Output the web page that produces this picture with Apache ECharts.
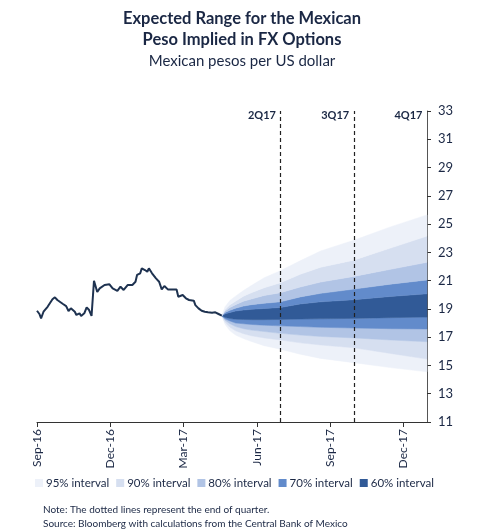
<!DOCTYPE html>
<html>
<head>
<meta charset="utf-8">
<script src="https://cdn.jsdelivr.net/npm/echarts@6/dist/echarts.min.js"></script>
<style>
  html, body { margin: 0; padding: 0; background: #fff; }
  #chart { width: 484px; height: 529px; }
</style>
</head>
<body>
<div id="chart"></div>
<script>
// historical spot rate, pesos per dollar
var histDates = ['2016-09-01','2016-09-04','2016-09-06','2016-09-09','2016-09-14','2016-09-20','2016-09-23','2016-09-26','2016-09-28','2016-09-29',
  '2016-10-03','2016-10-07','2016-10-10','2016-10-13','2016-10-18','2016-10-20','2016-10-24','2016-10-26','2016-10-30',
  '2016-11-02','2016-11-05','2016-11-08','2016-11-11','2016-11-15','2016-11-18','2016-11-24','2016-11-30',
  '2016-12-04','2016-12-10','2016-12-14','2016-12-18','2016-12-23','2016-12-29',
  '2017-01-02','2017-01-04','2017-01-08','2017-01-10','2017-01-14','2017-01-17','2017-01-19','2017-01-23','2017-01-28',
  '2017-02-01','2017-02-04','2017-02-07','2017-02-11','2017-02-21','2017-02-23','2017-02-28',
  '2017-03-04','2017-03-08','2017-03-10','2017-03-14','2017-03-16','2017-03-20','2017-03-24','2017-03-28',
  '2017-04-01','2017-04-06','2017-04-10','2017-04-14','2017-04-18'];
var histValues = [18.87,18.64,18.33,18.80,19.15,19.68,19.82,19.63,19.75,19.51,
  19.35,19.20,18.85,19.04,18.80,18.57,18.69,18.50,18.69,
  19.11,18.92,18.50,20.99,20.20,20.45,20.69,20.74,
  20.45,20.28,20.57,20.34,20.69,20.69,
  20.92,21.40,21.52,21.87,21.75,21.63,21.87,21.52,21.16,
  20.92,20.38,20.62,20.38,20.38,19.86,19.98,
  19.75,19.63,19.75,19.58,19.27,19.04,18.87,18.80,
  18.76,18.73,18.76,18.64,18.52];

// implied ranges
var fanDates = ['2017-04-18','2017-04-22','2017-04-28','2017-05-05','2017-05-15','2017-05-25','2017-06-10','2017-06-30','2017-07-25','2017-08-20','2017-09-30','2017-11-15','2017-12-31'];
var lo95 = [18.52,17.90,17.45,17.15,16.90,16.70,16.40,16.15,15.80,15.50,15.20,14.85,14.55];
var hi95 = [18.52,19.15,19.60,19.90,20.30,20.65,21.20,21.70,22.40,23.10,23.85,24.80,25.65];
var lo90 = [18.52,18.05,17.70,17.45,17.25,17.10,16.95,16.80,16.60,16.45,16.25,15.85,15.45];
var hi90 = [18.52,18.95,19.30,19.55,19.90,20.15,20.50,20.85,21.45,21.95,22.45,23.30,24.15];
var lo80 = [18.52,18.20,17.95,17.75,17.60,17.50,17.40,17.27,17.15,17.05,16.95,16.80,16.68];
var hi80 = [18.52,18.85,19.10,19.30,19.55,19.70,19.95,20.15,20.55,20.90,21.30,21.80,22.30];
var lo70 = [18.52,18.30,18.15,18.00,17.95,17.90,17.85,17.80,17.75,17.70,17.65,17.60,17.58];
var hi70 = [18.52,18.75,18.90,19.05,19.20,19.30,19.40,19.50,19.85,20.10,20.40,20.75,21.05];
var lo60 = [18.52,18.40,18.32,18.27,18.25,18.24,18.24,18.25,18.28,18.30,18.33,18.38,18.42];
var hi60 = [18.52,18.65,18.75,18.85,18.92,18.97,19.03,19.10,19.35,19.50,19.65,19.88,20.07];

var bandNames = ['95% interval','90% interval','80% interval','70% interval','60% interval'];
var bandColors = ['#edf1f9','#d6dff0','#b1c4e5','#628bcb','#315a97'];

var quarterEnds = ['2017-06-30','2017-09-30','2017-12-31'];
var quarterLabels = ['2Q17','3Q17','4Q17'];
var xTickLabels = ['Sep-16','Dec-16','Mar-17','Jun-17','Sep-17','Dec-17'];

var textColor = '#1a2744';
var font = 'Lato';

// months elapsed since 1 Sep 2016
function toM(d) {
  var p = d.split('-');
  var y = +p[0], m = +p[1], day = +p[2];
  var dim = new Date(y, m, 0).getDate();
  return (y - 2016) * 12 + (m - 9) + (day - 1) / dim;
}

function pairs(dates, vals) {
  return dates.map(function (d, i) { return [toM(d), vals[i]]; });
}

// one filled polygon between two edges, drawn from the first item
function bandRender(params, api) {
  if (params.dataIndexInside !== 0) return;
  var n = params.dataInsideLength;
  var top = [], bot = [];
  for (var i = 0; i < n; i++) {
    top.push(api.coord([api.value(0, i), api.value(2, i)]));
    bot.push(api.coord([api.value(0, i), api.value(1, i)]));
  }
  return {
    type: 'polygon',
    shape: { points: top.concat(bot.reverse()) },
    style: { fill: api.visual('color'), stroke: api.visual('color'), lineWidth: 0.5 }
  };
}

// pieces of the fan: [band index, lower edge, upper edge]
var pieces = [
  [0, lo95, lo90], [1, lo90, lo80], [2, lo80, lo70], [3, lo70, lo60],
  [4, lo60, hi60],
  [3, hi60, hi70], [2, hi70, hi80], [1, hi80, hi90], [0, hi90, hi95]
];

var series = pieces.map(function (p) {
  return {
    name: bandNames[p[0]],
    type: 'custom',
    renderItem: bandRender,
    silent: true,
    itemStyle: { color: bandColors[p[0]] },
    encode: { x: 0, y: [1, 2] },
    data: fanDates.map(function (d, i) { return [toM(d), p[1][i], p[2][i]]; }),
    z: 2
  };
});

series.push({
  name: 'spot',
  type: 'line',
  data: pairs(histDates, histValues),
  symbol: 'none',
  color: '#1e3250',
  lineStyle: { color: '#1e3250', width: 2 },
  z: 5
});

series.push({
  name: 'quarters',
  type: 'scatter',
  symbolSize: 1,
  silent: true,
  itemStyle: { color: 'rgba(0,0,0,0)', opacity: 1 },
  data: quarterEnds.map(function (d, i) { return { value: [toM(d), 32.7], name: quarterLabels[i] }; }),
  label: {
    show: true,
    position: 'left',
    distance: 4,
    formatter: '{b}',
    fontFamily: font,
    fontWeight: 'bold',
    fontSize: 11,
    color: textColor,
    opacity: 1
  },
  markLine: {
    silent: true,
    symbol: 'none',
    label: { show: false },
    lineStyle: { color: '#222', type: [4, 3], width: 1.2 },
    data: quarterEnds.map(function (d) { return { xAxis: toM(d) }; })
  },
  z: 6
});

var chart = echarts.init(document.getElementById('chart'));
chart.setOption({
  animation: false,
  title: [{
    text: 'Expected Range for the Mexican\nPeso Implied in FX Options',
    subtext: 'Mexican pesos per US dollar',
    left: 'center',
    top: 3,
    itemGap: 1,
    textStyle: { fontFamily: font, fontWeight: 'bold', fontSize: 16.5, lineHeight: 21, color: textColor },
    subtextStyle: { fontFamily: font, fontSize: 15, lineHeight: 20, color: textColor }
  }, {
    text: 'Note: The dotted lines represent the end of quarter.\nSource: Bloomberg with calculations from the Central Bank of Mexico',
    left: 38,
    top: 498,
    textStyle: { fontFamily: font, fontWeight: 'normal', fontSize: 10, lineHeight: 14, color: textColor }
  }],
  legend: {
    data: bandNames,
    left: 30,
    top: 472,
    icon: 'rect',
    itemWidth: 8,
    itemHeight: 8,
    itemGap: 7,
    textStyle: { fontFamily: font, fontSize: 11.5, color: textColor, padding: [0, 0, 0, -2] }
  },
  grid: { left: 37, right: 57, top: 111, bottom: 107 },
  xAxis: {
    type: 'value',
    min: 0,
    max: toM('2017-12-31'),
    interval: 3,
    axisLine: { onZero: false, lineStyle: { color: '#333', width: 1 } },
    axisTick: { show: true, length: 5, lineStyle: { color: '#333' } },
    splitLine: { show: false },
    axisLabel: {
      rotate: 90,
      margin: 7,
      fontFamily: font,
      fontSize: 12,
      color: textColor,
      showMaxLabel: false,
      formatter: function (v) {
        var i = Math.round(v / 3);
        return Math.abs(v - i * 3) < 1e-6 && xTickLabels[i] ? xTickLabels[i] : '';
      }
    }
  },
  yAxis: {
    type: 'value',
    position: 'right',
    min: 11,
    max: 33,
    interval: 2,
    axisLine: { show: true, onZero: false, lineStyle: { color: '#555' } },
    axisTick: { show: true, length: 4, lineStyle: { color: '#333' } },
    splitLine: { show: false },
    axisLabel: { margin: 11, fontFamily: font, fontSize: 13, color: textColor }
  },
  series: series
});
</script>
</body>
</html>
